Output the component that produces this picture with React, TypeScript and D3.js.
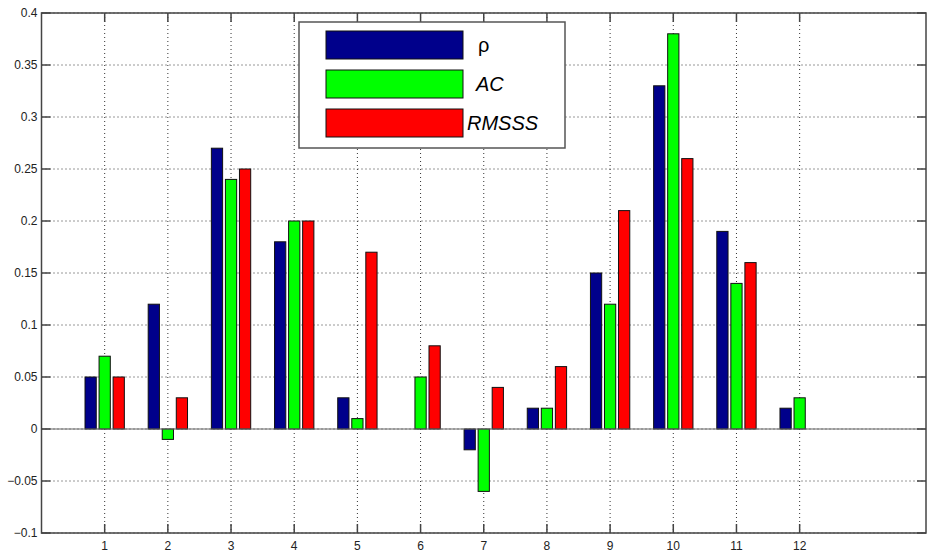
import * as d3 from "d3";

// categories and series values
const categories = [1, 2, 3, 4, 5, 6, 7, 8, 9, 10, 11, 12];
const rho = [0.05, 0.12, 0.27, 0.18, 0.03, 0, -0.02, 0.02, 0.15, 0.33, 0.19, 0.02];
const ac = [0.07, -0.01, 0.24, 0.2, 0.01, 0.05, -0.06, 0.02, 0.12, 0.38, 0.14, 0.03];
const rmsss = [0.05, 0.03, 0.25, 0.2, 0.17, 0.08, 0.04, 0.06, 0.21, 0.26, 0.16, 0];
const yTicks = [-0.1, -0.05, 0, 0.05, 0.1, 0.15, 0.2, 0.25, 0.3, 0.35, 0.4];
const seriesNames = ["ρ", "AC", "RMSSS"];
const seriesColors = ["#00008b", "#00ff00", "#ff0000"];

const width = 928;
const height = 554;
const margin = { top: 13, right: 2, bottom: 21, left: 41.5 };
const font = "'Liberation Sans', Arial, sans-serif";

const App = () => {
  const x = d3.scaleLinear().domain([0, 14]).range([margin.left, width - margin.right]);
  const y = d3.scaleLinear().domain([-0.1, 0.4]).range([height - margin.bottom, margin.top]);
  const series = [rho, ac, rmsss];

  // MATLAB style grouped bars: group width 2/3, bar width 0.8 of slot
  const slot = 0.667 / 3;
  const barW = x(slot * 0.8) - x(0);
  const [x0, x1] = x.range();
  const [yb, yt] = y.range();
  const tickLen = 9;
  const axisColor = "#444";

  const legend = { x: 299, y: 22, w: 266, h: 126 };

  return (
    <svg width={width} height={height} style={{ position: "absolute", left: 0, top: 0, background: "#fff" }}>
      {/* grid */}
      <g stroke="#333" strokeWidth={1} strokeDasharray="1,3">
        {categories.map((c) => (
          <line key={"gx" + c} x1={x(c)} x2={x(c)} y1={yt} y2={yb} />
        ))}
        {yTicks.map((t) => (
          <line key={"gy" + t} x1={x0} x2={x1} y1={y(t)} y2={y(t)} />
        ))}
      </g>

      {/* bars */}
      {series.map((vals, si) => (
        <g key={si} fill={seriesColors[si]} stroke="#111" strokeWidth={1}>
          {categories.map((c, i) => {
            const v = vals[i];
            if (v === 0) return null;
            const cx = x(c + (si - 1) * slot);
            const yv = y(v);
            const y0 = y(0);
            return (
              <rect
                key={c}
                x={cx - barW / 2}
                y={Math.min(yv, y0)}
                width={barW}
                height={Math.abs(y0 - yv)}
              />
            );
          })}
        </g>
      ))}

      {/* baseline */}
      <line x1={x0} x2={x1} y1={y(0)} y2={y(0)} stroke="#666" strokeWidth={1.2} />

      {/* axes box and ticks */}
      <g stroke={axisColor} strokeWidth={1.5} fill="none">
        <rect x={x0} y={yt} width={x1 - x0} height={yb - yt} />
        {categories.map((c) => (
          <g key={"tx" + c}>
            <line x1={x(c)} x2={x(c)} y1={yb} y2={yb - tickLen} />
            <line x1={x(c)} x2={x(c)} y1={yt} y2={yt + tickLen} />
          </g>
        ))}
        {yTicks.map((t) => (
          <g key={"ty" + t}>
            <line x1={x0} x2={x0 + tickLen} y1={y(t)} y2={y(t)} />
            <line x1={x1} x2={x1 - tickLen} y1={y(t)} y2={y(t)} />
          </g>
        ))}
      </g>

      {/* tick labels */}
      <g fontFamily={font} fontSize={12} fill="#222">
        {categories.map((c) => (
          <text key={"lx" + c} x={x(c)} y={yb + 17} textAnchor="middle">
            {c}
          </text>
        ))}
        {yTicks.map((t) => (
          <text key={"ly" + t} x={x0 - 4} y={y(t)} dy="0.35em" textAnchor="end">
            {d3.format("~g")(Math.round(t * 100) / 100)}
          </text>
        ))}
      </g>

      {/* legend */}
      <g>
        <rect x={legend.x} y={legend.y} width={legend.w} height={legend.h} fill="#fff" stroke="#555" strokeWidth={1.5} />
        {seriesNames.map((name, i) => {
          const sy = 31 + i * 39;
          return (
            <g key={name}>
              <rect x={326} y={sy} width={137} height={28} fill={seriesColors[i]} stroke="#111" strokeWidth={1} />
              <text
                x={i === 2 ? 467 : i === 1 ? 476 : 478}
                y={sy + 14}
                dy="0.35em"
                fontFamily={font}
                fontSize={20}
                fontStyle={i === 0 ? "normal" : "italic"}
                fill="#000"
              >
                {name}
              </text>
            </g>
          );
        })}
      </g>
    </svg>
  );
};

export default App;
